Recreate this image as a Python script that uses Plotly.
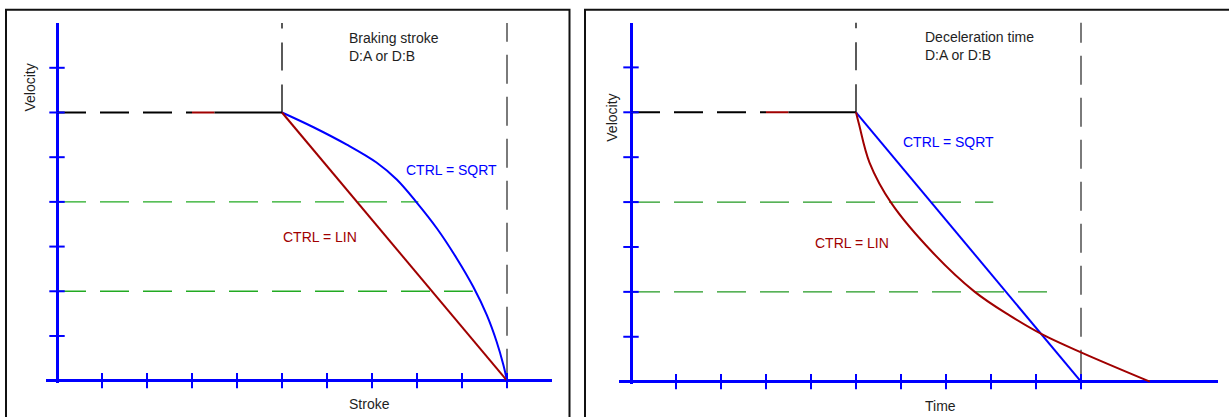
import plotly.graph_objects as go

W, H = 1229, 417

# shared tick positions
x_ticks = list(range(1, 11))
v_ticks = list(range(1, 8))
v_top = 8

# constant-speed approach (both panels)
approach_x = [0, 3.0]
approach_v = [6, 6]
ramp_x = [3.0, 3.5]
ramp_v = [6, 6]
cruise_x = [3.5, 5]
cruise_v = [6, 6]
brake_start = 5
brake_end = 10

# left panel: braking stroke
stroke_lin_x = [5, 10]
stroke_lin_v = [6, 0]
stroke_sqrt_x = [5.0, 5.70, 6.44, 7.10, 7.55, 7.99, 8.44, 8.88, 9.25, 9.55, 9.77, 9.92, 10.0]
stroke_sqrt_v = [6.0, 5.67, 5.28, 4.88, 4.50, 3.99, 3.41, 2.74, 2.10, 1.47, 0.87, 0.35, 0.0]
stroke_green_v = [4, 2]
stroke_green_end = [8.03, 9.24]

# right panel: deceleration time
time_sqrt_x = [5, 10]
time_sqrt_v = [6, 0]
time_lin_x = [5.0, 5.07, 5.30, 5.79, 6.72, 7.64, 8.42, 9.16, 10.05, 11.53]
time_lin_v = [6.0, 5.72, 4.88, 3.97, 2.86, 2.00, 1.47, 1.04, 0.63, 0.0]
time_green_v = [4, 2]
time_green_end = [8.05, 9.27]

BLUE = "#0000ff"
RED = "#a00000"
FONT = "Liberation Sans, Arial, sans-serif"
TXT = "#1e1e1e"


def xdom(a, b):
    return [a / W, b / W]


def ydom(bottom, top):
    return [1 - bottom / H, 1 - top / H]


fig = go.Figure()


def add_panel(xa, ya, lin_x, lin_v, sq_x, sq_v, green_v, green_end, green_col):
    kw = dict(xaxis=xa, yaxis=ya, mode="lines", hoverinfo="skip", showlegend=False)
    for gv, ge in zip(green_v, green_end):
        fig.add_trace(go.Scatter(x=[0, ge], y=[gv, gv],
                                 line=dict(color=green_col, width=1.3, dash="29px,14px"), **kw))
    fig.add_trace(go.Scatter(x=[brake_end, brake_end], y=[0, v_top],
                             line=dict(color="#7a7a7a", width=2, dash="0px,3px,29px,10px"), **kw))
    fig.add_trace(go.Scatter(x=[brake_start, brake_start], y=[approach_v[0], v_top],
                             line=dict(color="#000000", width=1.3, dash="28px,14px"), **kw))
    fig.add_trace(go.Scatter(x=approach_x, y=approach_v,
                             line=dict(color="#000000", width=2, dash="29px,14px"), **kw))
    fig.add_trace(go.Scatter(x=ramp_x, y=ramp_v, line=dict(color=RED, width=2), **kw))
    fig.add_trace(go.Scatter(x=cruise_x, y=cruise_v, line=dict(color="#000000", width=2), **kw))
    fig.add_trace(go.Scatter(x=sq_x, y=sq_v, line=dict(color=BLUE, width=2, shape="spline", smoothing=1.0), **kw))
    fig.add_trace(go.Scatter(x=lin_x, y=lin_v, line=dict(color=RED, width=2, shape="spline", smoothing=1.0), **kw))
    # tick marks crossing the axes
    fig.add_trace(go.Scatter(x=x_ticks, y=[0] * len(x_ticks), mode="markers", cliponaxis=False,
                             marker=dict(symbol="line-ns", size=11, line=dict(color=BLUE, width=2)),
                             xaxis=xa, yaxis=ya, hoverinfo="skip", showlegend=False))
    fig.add_trace(go.Scatter(x=[0] * len(v_ticks), y=v_ticks, mode="markers", cliponaxis=False,
                             marker=dict(symbol="line-ew", size=11, line=dict(color=BLUE, width=2)),
                             xaxis=xa, yaxis=ya, hoverinfo="skip", showlegend=False))


add_panel("x", "y", stroke_lin_x, stroke_lin_v, stroke_sqrt_x, stroke_sqrt_v,
          stroke_green_v, stroke_green_end, "#22aa22")
add_panel("x2", "y2", time_lin_x, time_lin_v, time_sqrt_x, time_sqrt_v,
          time_green_v, time_green_end, "#229922")

ax = dict(showgrid=False, showticklabels=False, ticks="", showline=False,
          zeroline=True, zerolinecolor=BLUE, zerolinewidth=2.5, fixedrange=True)

fig.update_layout(
    width=W, height=H,
    margin=dict(l=0, r=0, t=0, b=0),
    paper_bgcolor="white", plot_bgcolor="white",
    font=dict(family=FONT, size=14, color=TXT),
    xaxis=dict(domain=xdom(45.75, 552), range=[-0.25, 11], **ax),
    yaxis=dict(domain=ydom(382.9, 23.1), range=[-0.05, v_top], **ax),
    xaxis2=dict(domain=xdom(618.85, 1218.25), range=[-0.27, 13.05], anchor="y2", **ax),
    yaxis2=dict(domain=ydom(383.9, 22.5), range=[-0.05, v_top], anchor="x2", **ax),
)

# panel frames
for x0, x1 in [(6, 569.5), (585, 1240)]:
    fig.add_shape(type="rect", xref="paper", yref="paper",
                  x0=x0 / W, x1=x1 / W, y0=-0.2, y1=1 - 9.7 / H,
                  line=dict(color="#111111", width=2))


def note(text, x, y, color=TXT, xanchor="left", angle=0):
    fig.add_annotation(text=text, xref="paper", yref="paper", x=x / W, y=1 - y / H,
                       xanchor=xanchor, yanchor="middle", showarrow=False, align="left",
                       textangle=angle, font=dict(color=color, size=14, family=FONT))


note("Braking stroke<br>D:A or D:B", 347, 47)
note("CTRL = SQRT", 403.7, 169.7, BLUE)
note("CTRL = LIN", 280.7, 237, RED)
note("Velocity", 29.5, 87, xanchor="center", angle=-90)
note("Stroke", 369.7, 404.4, xanchor="center")

note("Deceleration time<br>D:A or D:B", 923, 46.5)
note("CTRL = SQRT", 900.7, 142.3, BLUE)
note("CTRL = LIN", 813, 242.7, RED)
note("Velocity", 611.7, 118, xanchor="center", angle=-90)
note("Time", 940, 405.5, xanchor="center")

fig.write_html("out.html", config={"displayModeBar": False},
               post_script="document.body.style.margin='0px';")
